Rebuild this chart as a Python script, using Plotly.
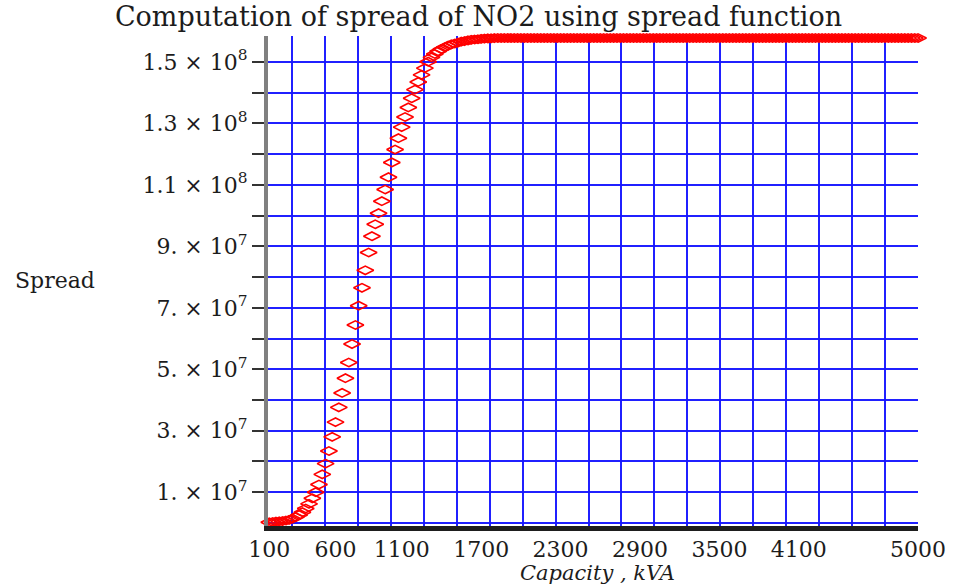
import plotly.graph_objects as go

# ---- data ----
capacity = [
    100, 125, 150, 175, 200, 225, 250, 275, 300, 325, 350, 375, 400, 425, 450, 475,
    500, 525, 550, 575, 600, 625, 650, 675, 700, 725, 750, 775, 800, 825, 850, 875,
    900, 925, 950, 975, 1000, 1025, 1050, 1075, 1100, 1125, 1150, 1175, 1200, 1225, 1250, 1275,
    1300, 1325, 1350, 1375, 1400, 1425, 1450, 1475, 1500, 1525, 1550, 1575, 1600, 1625, 1650, 1675,
    1700, 1725, 1750, 1775, 1800, 1825, 1850, 1875, 1900, 1925, 1950, 1975, 2000, 2025, 2050, 2075,
    2100, 2125, 2150, 2175, 2200, 2225, 2250, 2275, 2300, 2325, 2350, 2375, 2400, 2425, 2450, 2475,
    2500, 2525, 2550, 2575, 2600, 2625, 2650, 2675, 2700, 2725, 2750, 2775, 2800, 2825, 2850, 2875,
    2900, 2925, 2950, 2975, 3000, 3025, 3050, 3075, 3100, 3125, 3150, 3175, 3200, 3225, 3250, 3275,
    3300, 3325, 3350, 3375, 3400, 3425, 3450, 3475, 3500, 3525, 3550, 3575, 3600, 3625, 3650, 3675,
    3700, 3725, 3750, 3775, 3800, 3825, 3850, 3875, 3900, 3925, 3950, 3975, 4000, 4025, 4050, 4075,
    4100, 4125, 4150, 4175, 4200, 4225, 4250, 4275, 4300, 4325, 4350, 4375, 4400, 4425, 4450, 4475,
    4500, 4525, 4550, 4575, 4600, 4625, 4650, 4675, 4700, 4725, 4750, 4775, 4800, 4825, 4850, 4875,
    4900, 4925, 4950, 4975, 5000,
]

# spread values in units of 10^7
spread_e7 = [
    0.02, 0.03, 0.04, 0.05, 0.06, 0.08, 0.10, 0.14, 0.19, 0.26, 0.35, 0.47, 0.62, 0.80, 1.00, 1.25,
    1.58, 1.93, 2.34, 2.80, 3.28, 3.76, 4.23, 4.71, 5.22, 5.82, 6.44, 7.07, 7.65, 8.22, 8.80, 9.33,
    9.72, 10.08, 10.47, 10.85, 11.25, 11.73, 12.15, 12.52, 12.88, 13.21, 13.52, 13.82, 14.10, 14.35, 14.58, 14.80,
    15.01, 15.15, 15.26, 15.35, 15.42, 15.48, 15.53, 15.57, 15.60, 15.63, 15.66, 15.68, 15.70, 15.72, 15.73, 15.74,
    15.75, 15.76, 15.765, 15.77, 15.775, 15.78, 15.78, 15.78, 15.78, 15.78, 15.78, 15.78, 15.78, 15.78, 15.78, 15.78,
    15.78, 15.78, 15.78, 15.78, 15.78, 15.78, 15.78, 15.78, 15.78, 15.78, 15.78, 15.78, 15.78, 15.78, 15.78, 15.78,
    15.78, 15.78, 15.78, 15.78, 15.78, 15.78, 15.78, 15.78, 15.78, 15.78, 15.78, 15.78, 15.78, 15.78, 15.78, 15.78,
    15.78, 15.78, 15.78, 15.78, 15.78, 15.78, 15.78, 15.78, 15.78, 15.78, 15.78, 15.78, 15.78, 15.78, 15.78, 15.78,
    15.78, 15.78, 15.78, 15.78, 15.78, 15.78, 15.78, 15.78, 15.78, 15.78, 15.78, 15.78, 15.78, 15.78, 15.78, 15.78,
    15.78, 15.78, 15.78, 15.78, 15.78, 15.78, 15.78, 15.78, 15.78, 15.78, 15.78, 15.78, 15.78, 15.78, 15.78, 15.78,
    15.78, 15.78, 15.78, 15.78, 15.78, 15.78, 15.78, 15.78, 15.78, 15.78, 15.78, 15.78, 15.78, 15.78, 15.78, 15.78,
    15.78, 15.78, 15.78, 15.78, 15.78, 15.78, 15.78, 15.78, 15.78, 15.78, 15.78, 15.78, 15.78, 15.78, 15.78, 15.78,
    15.78, 15.78, 15.78, 15.78, 15.78,
]

x_tick_values = [100, 600, 1100, 1700, 2300, 2900, 3500, 4100, 5000]
x_tick_labels = ["100", "600", "1100", "1700", "2300", "2900", "3500", "4100", "5000"]

x_grid_values = [250, 500, 750, 1000, 1250, 1500, 1750, 2000, 2250, 2500,
                 2750, 3000, 3250, 3500, 3750, 4000, 4250, 4500, 4750, 5000]

y_major_e7 = [1, 3, 5, 7, 9, 11, 13, 15]
y_minor_e7 = [2, 4, 6, 8, 10, 12, 14]
y_tick_labels = [
    "1.\u00a0×\u00a010<sup>7</sup>", "3.\u00a0×\u00a010<sup>7</sup>",
    "5.\u00a0×\u00a010<sup>7</sup>", "7.\u00a0×\u00a010<sup>7</sup>",
    "9.\u00a0×\u00a010<sup>7</sup>", "1.1\u00a0×\u00a010<sup>8</sup>",
    "1.3\u00a0×\u00a010<sup>8</sup>", "1.5\u00a0×\u00a010<sup>8</sup>",
]

title_text = "Computation of spread of NO2 using spread function"
x_title = "Capacity , kVA"
y_title = "Spread"

# ---- figure ----
spread = [v * 1e7 for v in spread_e7]
y_major = [v * 1e7 for v in y_major_e7]
y_minor = [v * 1e7 for v in y_minor_e7]

SERIF = "DejaVu Serif"
TXT = "#1c1c1c"
GRID = "rgba(20,20,255,0.95)"

fig = go.Figure()
fig.add_trace(go.Scatter(
    x=capacity, y=spread, mode="markers",
    marker=dict(symbol="diamond-wide-open", size=12, color="#ff0000",
                line=dict(width=1.6, color="#ff0000")),
    cliponaxis=False, showlegend=False, hoverinfo="skip",
))
# carrier trace for the grid axis
fig.add_trace(go.Scatter(x=[None], y=[None], xaxis="x2", yaxis="y",
                         showlegend=False, hoverinfo="skip"))

fig.update_layout(
    width=957, height=585,
    margin=dict(l=268, r=39, t=36, b=59),
    paper_bgcolor="white", plot_bgcolor="white",
    title=dict(text=title_text, x=0.5, xref="container", xanchor="center",
               y=1 - 17 / 585, yref="container", yanchor="middle",
               font=dict(family=SERIF, size=27, color=TXT)),
    xaxis=dict(range=[90, 5000], tickmode="array", tickvals=x_tick_values,
               ticktext=x_tick_labels, showgrid=False, zeroline=False,
               showline=True, linecolor="#1e1e1e", linewidth=5, ticks="",
               tickfont=dict(family=SERIF, size=22, color=TXT)),
    xaxis2=dict(overlaying="x", anchor="y", range=[68, 5000], tickmode="array",
                tickvals=x_grid_values, showticklabels=False, showgrid=True,
                gridcolor=GRID, gridwidth=1.5, ticks="", showline=False,
                zeroline=False),
    yaxis=dict(range=[-1e6, 1.5845e8], tickmode="array", tickvals=y_major,
               ticktext=y_tick_labels, showgrid=True, gridcolor=GRID, gridwidth=1.5,
               zeroline=True, zerolinecolor=GRID, zerolinewidth=1.5,
               showline=True, linecolor="#808080", linewidth=4,
               ticks="outside", ticklen=12, tickwidth=1.5, tickcolor="#333",
               minor=dict(tickmode="array", tickvals=y_minor, ticks="outside",
                          ticklen=12, tickwidth=1.5, tickcolor="#333",
                          showgrid=True, gridcolor=GRID, gridwidth=1.5),
               tickfont=dict(family=SERIF, size=22, color=TXT)),
    annotations=[
        dict(text=y_title, xref="paper", yref="paper", x=(55 - 268) / 650,
             y=(526 - 280) / 490, showarrow=False, xanchor="center", yanchor="middle",
             font=dict(family=SERIF, size=22, color=TXT)),
        dict(text="<i>" + x_title + "</i>", xref="paper", yref="paper",
             x=(597 - 268) / 650, y=(526 - 573) / 490, showarrow=False,
             xanchor="center", yanchor="middle",
             font=dict(family=SERIF, size=21, color=TXT)),
    ],
)

fig.write_html("out.html")
